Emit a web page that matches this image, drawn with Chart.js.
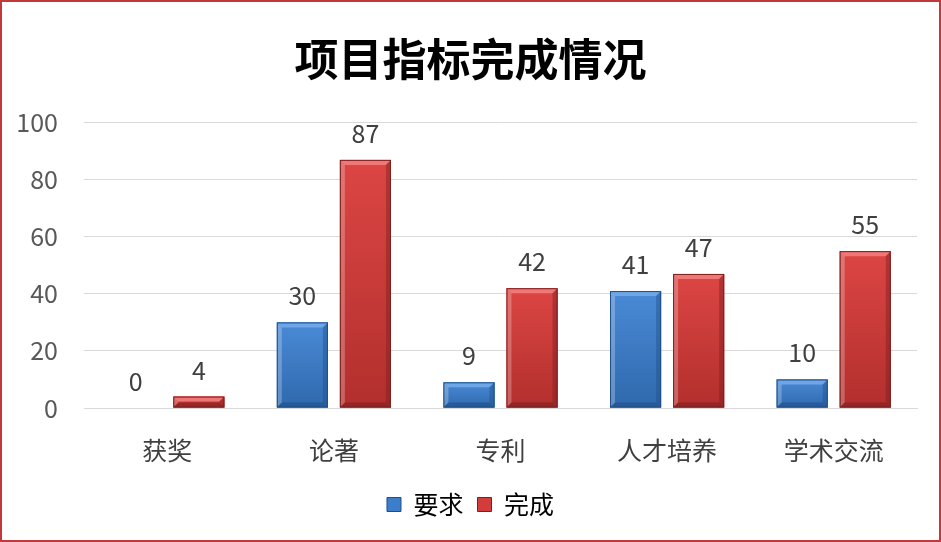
<!DOCTYPE html>
<html>
<head>
<meta charset="utf-8">
<script src="https://cdn.jsdelivr.net/npm/chart.js@4"></script>
<style>
  html, body { margin: 0; padding: 0; background: #fff; }
  #wrap { width: 941px; height: 542px; box-sizing: border-box; border: 2px solid #c0393b; }
  canvas { display: block; }
</style>
</head>
<body>
<div id="wrap"><canvas id="chart" width="937" height="538"></canvas></div>
<script>
var categories = ['获奖', '论著', '专利', '人才培养', '学术交流'];
var required = [0, 30, 9, 41, 10];
var completed = [4, 87, 42, 47, 55];
var yTicks = [0, 20, 40, 60, 80, 100];

var FONT = '"Noto Sans CJK SC", "Noto Sans", sans-serif';

var palette = [
    { base: '#3c7dcc', top: '#6fa6e6', dark: '#1f4f8a', gradTop: '#4a8ad6', gradEnd: '#2f69ad' },
    { base: '#d23d3b', top: '#ef7775', dark: '#7d1f1e', gradTop: '#dc4644', gradEnd: '#b22f2d' }
];

// bevelled bar look drawn over the library's bar elements
var bevelPlugin = {
    id: 'bevel',
    afterDatasetsDraw: function (chart) {
        var ctx = chart.ctx;
        chart.data.datasets.forEach(function (ds, di) {
            var c = palette[di];
            chart.getDatasetMeta(di).data.forEach(function (bar) {
                var p = bar.getProps(['x', 'y', 'base', 'width'], true);
                var l = p.x - p.width / 2, r = p.x + p.width / 2, t = p.y, b = p.base;
                var h = b - t;
                if (h < 1) return;
                var bv = Math.min(5, h / 2, p.width / 4);
                ctx.save();
                var g = ctx.createLinearGradient(0, t, 0, b);
                g.addColorStop(0, c.gradTop);
                g.addColorStop(1, c.gradEnd);
                ctx.fillStyle = g;
                ctx.fillRect(l, t, r - l, h);
                // top bevel
                ctx.fillStyle = c.top;
                ctx.beginPath();
                ctx.moveTo(l, t); ctx.lineTo(r, t); ctx.lineTo(r - bv, t + bv); ctx.lineTo(l + bv, t + bv); ctx.closePath();
                ctx.fill();
                // left bevel
                ctx.globalAlpha = 0.25;
                ctx.fillStyle = '#ffffff';
                ctx.beginPath();
                ctx.moveTo(l, t); ctx.lineTo(l + bv, t + bv); ctx.lineTo(l + bv, b - bv); ctx.lineTo(l, b); ctx.closePath();
                ctx.fill();
                // right bevel
                ctx.globalAlpha = 0.45;
                ctx.fillStyle = c.dark;
                ctx.beginPath();
                ctx.moveTo(r, t); ctx.lineTo(r - bv, t + bv); ctx.lineTo(r - bv, b - bv); ctx.lineTo(r, b); ctx.closePath();
                ctx.fill();
                // bottom bevel
                ctx.globalAlpha = 0.6;
                ctx.beginPath();
                ctx.moveTo(l, b); ctx.lineTo(l + bv, b - bv); ctx.lineTo(r - bv, b - bv); ctx.lineTo(r, b); ctx.closePath();
                ctx.fill();
                ctx.globalAlpha = 1;
                ctx.strokeStyle = c.dark;
                ctx.lineWidth = 1;
                ctx.strokeRect(l + 0.5, t + 0.5, r - l - 1, h - 1);
                ctx.restore();
            });
        });
    }
};

// value labels above every bar (including zeros)
var valueLabels = {
    id: 'valueLabels',
    afterDatasetsDraw: function (chart) {
        var ctx = chart.ctx;
        ctx.save();
        ctx.font = '25px ' + FONT;
        ctx.fillStyle = '#404040';
        ctx.textAlign = 'center';
        ctx.textBaseline = 'bottom';
        chart.data.datasets.forEach(function (ds, di) {
            chart.getDatasetMeta(di).data.forEach(function (bar, i) {
                ctx.fillText(String(ds.data[i]), bar.x, bar.y - 14);
            });
        });
        ctx.restore();
    }
};

var ctx = document.getElementById('chart').getContext('2d');
var myChart = new Chart(ctx, {
    type: 'bar',
    data: {
        labels: categories,
        datasets: [
            { label: '要求', data: required, backgroundColor: palette[0].base, borderWidth: 0 },
            { label: '完成', data: completed, backgroundColor: palette[1].base, borderWidth: 0 }
        ]
    },
    plugins: [bevelPlugin, valueLabels],
    options: {
        responsive: false,
        animation: false,
        layout: { padding: { left: 0, right: 0, top: 0, bottom: 13 } },
        datasets: {
            bar: { categoryPercentage: 0.757, barPercentage: 0.81 }
        },
        plugins: {
            title: {
                display: true,
                text: '项目指标完成情况',
                color: '#000000',
                font: { family: FONT, size: 44, weight: 'bold' },
                padding: { top: 31, bottom: 37 }
            },
            legend: {
                position: 'bottom',
                labels: {
                    font: { family: FONT, size: 25 },
                    color: '#000000',
                    boxWidth: 14,
                    boxHeight: 14,
                    padding: 14,
                    generateLabels: function (chart) {
                        return chart.data.datasets.map(function (ds, i) {
                            return {
                                text: ds.label,
                                fillStyle: palette[i].base,
                                strokeStyle: palette[i].dark,
                                lineWidth: 1,
                                fontColor: '#000000',
                                datasetIndex: i
                            };
                        });
                    }
                }
            },
            tooltip: { enabled: false }
        },
        scales: {
            x: {
                afterFit: function (scale) { scale.height = 70; },
                grid: { display: false, drawTicks: false },
                border: { display: true, color: '#d9d9d9', width: 1 },
                ticks: { color: '#404040', font: { family: FONT, size: 25 }, padding: 27 }
            },
            y: {
                min: 0,
                max: 100,
                afterFit: function (scale) { scale.width = 82; },
                afterBuildTicks: function (scale) {
                    scale.ticks = yTicks.map(function (v) { return { value: v }; });
                },
                grid: { color: '#d9d9d9', drawTicks: false },
                border: { display: false },
                ticks: { color: '#595959', font: { family: FONT, size: 25 }, padding: 26 }
            },
            // empty right-hand gutter so the plot ends where the reference's does
            gutter: {
                type: 'linear',
                position: 'right',
                afterFit: function (scale) { scale.width = 22; },
                grid: { display: false, drawTicks: false },
                border: { display: false },
                ticks: { display: false }
            }
        }
    }
});
</script>
</body>
</html>
